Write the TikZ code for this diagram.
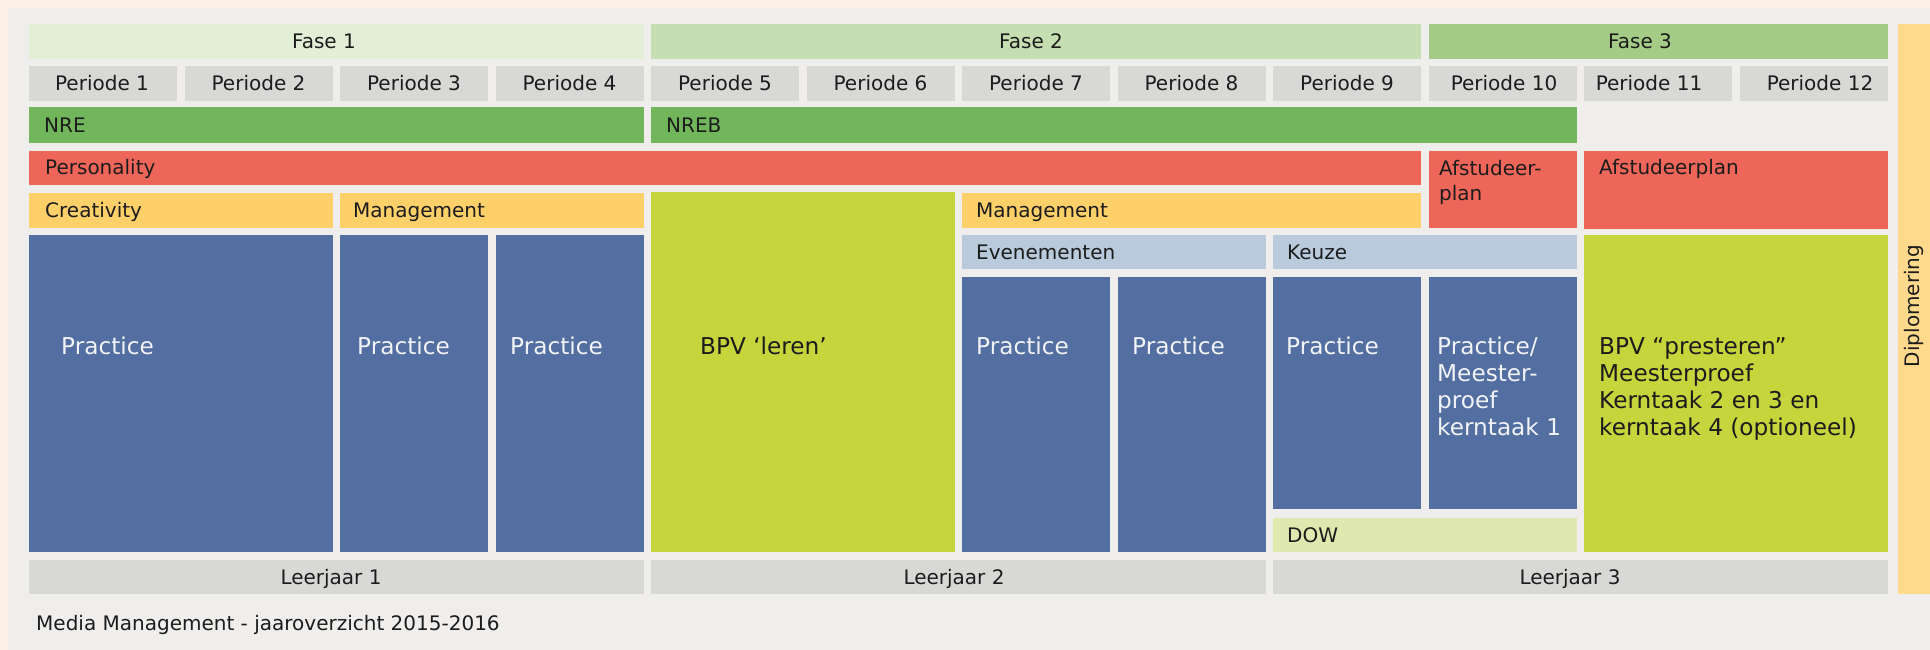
\documentclass[tikz,border=0pt]{standalone}
\usepackage{fontspec}
\setmainfont{DejaVu Sans}
\definecolor{peach}{HTML}{FDF0E6}
\definecolor{panel}{HTML}{F0EEEC}
\definecolor{fasea}{HTML}{E2EFD6}
\definecolor{faseb}{HTML}{C5DFB2}
\definecolor{fasec}{HTML}{A5CC86}
\definecolor{greyc}{HTML}{D8D8D6}
\definecolor{nrec}{HTML}{72B65B}
\definecolor{redc}{HTML}{EE665A}
\definecolor{yelc}{HTML}{FED06A}
\definecolor{bluec}{HTML}{536EA0}
\definecolor{lbluec}{HTML}{B8CADB}
\definecolor{limec}{HTML}{C6D53C}
\definecolor{dowc}{HTML}{DEE8AF}
\definecolor{diploc}{HTML}{FFDA8C}
\definecolor{txt}{HTML}{1C1C1C}
\definecolor{wtxt}{HTML}{F2F3F7}
\newcommand\cell[6]{\node[cellbox, fill=#6, anchor=north west, minimum width={(#4-#2)*1pt}, minimum height={(#5-#3)*1pt}] (#1) at (#2,#3) {};}
\begin{document}
\begin{tikzpicture}[x=1pt,y=-1pt,
  cellbox/.style={draw=none, inner sep=0pt, outer sep=0pt},
  lbl/.style={font=\fontsize{20}{25}\selectfont, text=txt, inner sep=0pt, align=left},
  big/.style={font=\fontsize{23.2}{27}\selectfont, text=wtxt, inner sep=0pt, align=left}]
\useasboundingbox (0,0) rectangle (1930,650);
\fill[peach] (0,0) rectangle (1930,650);
\fill[panel] (8,8) rectangle (1930,650);
% phases
\cell{fase1}{29}{24}{643.5}{59}{fasea}
\cell{fase2}{651}{24}{1421}{59}{faseb}
\cell{fase3}{1428.5}{24}{1887.5}{59}{fasec}
% periods
\cell{p1}{29}{66}{177}{101}{greyc}
\cell{p2}{184.5}{66}{332.5}{101}{greyc}
\cell{p3}{340}{66}{488}{101}{greyc}
\cell{p4}{495.5}{66}{643.5}{101}{greyc}
\cell{p5}{651}{66}{799}{101}{greyc}
\cell{p6}{806.5}{66}{954.5}{101}{greyc}
\cell{p7}{962}{66}{1110}{101}{greyc}
\cell{p8}{1117.5}{66}{1265.5}{101}{greyc}
\cell{p9}{1273}{66}{1421}{101}{greyc}
\cell{p10}{1428.5}{66}{1576.5}{101}{greyc}
\cell{p11}{1584}{66}{1732}{101}{greyc}
\cell{p12}{1739.5}{66}{1887.5}{101}{greyc}
% NRE
\cell{nre}{29}{107}{643.5}{143}{nrec}
\cell{nreb}{651}{107}{1576.5}{143}{nrec}
% personality
\cell{pers}{29}{151}{1421}{185}{redc}
\cell{afsta}{1428.5}{151}{1576.5}{227.5}{redc}
\cell{afstb}{1584}{151}{1887.5}{228.5}{redc}
% row 5
\cell{creat}{29}{193}{332.5}{228}{yelc}
\cell{mgmta}{340}{193}{643.5}{228}{yelc}
\cell{bpva}{651}{192}{954.5}{552}{limec}
\cell{mgmtb}{962}{193}{1421}{228}{yelc}
% practice blocks
\cell{blue1}{29}{235}{332.5}{552}{bluec}
\cell{blue2}{340}{235}{488}{552}{bluec}
\cell{blue3}{495.5}{235}{643.5}{552}{bluec}
\cell{even}{962}{235}{1265.5}{269}{lbluec}
\cell{blue4}{962}{277}{1110}{552}{bluec}
\cell{blue5}{1117.5}{277}{1265.5}{552}{bluec}
\cell{keuze}{1273}{235}{1576.5}{269}{lbluec}
\cell{blue6}{1273}{277}{1421}{509}{bluec}
\cell{blue7}{1428.5}{277}{1576.5}{509}{bluec}
\cell{dow}{1273}{518}{1576.5}{552}{dowc}
\cell{bpvb}{1584}{235}{1887.5}{552}{limec}
% years
\cell{leer1}{29}{560}{643.5}{594}{greyc}
\cell{leer2}{651}{560}{1265.5}{594}{greyc}
\cell{leer3}{1273}{560}{1887.5}{594}{greyc}
% diploma
\cell{diplo}{1898}{24}{1930}{594}{diploc}
% ---------- texts ----------
\node[lbl, anchor=base] (tf1) at (324,48.5) {Fase 1};
\node[lbl, anchor=base] (tf2) at (1031,48.5) {Fase 2};
\node[lbl, anchor=base] (tf3) at (1640,48.5) {Fase 3};
\node[lbl, anchor=base] (tp1) at (102,90.5) {Periode 1};
\node[lbl, anchor=base] (tp2) at (258.5,90.5) {Periode 2};
\node[lbl, anchor=base] (tp3) at (414,90.5) {Periode 3};
\node[lbl, anchor=base] (tp4) at (569.5,90.5) {Periode 4};
\node[lbl, anchor=base] (tp5) at (725,90.5) {Periode 5};
\node[lbl, anchor=base] (tp6) at (880.5,90.5) {Periode 6};
\node[lbl, anchor=base] (tp7) at (1036,90.5) {Periode 7};
\node[lbl, anchor=base] (tp8) at (1191.5,90.5) {Periode 8};
\node[lbl, anchor=base] (tp9) at (1347,90.5) {Periode 9};
\node[lbl, anchor=base] (tp10) at (1504,90.5) {Periode 10};
\node[lbl, anchor=base] (tp11) at (1649,90.5) {Periode 11};
\node[lbl, anchor=base] (tp12) at (1820,90.5) {Periode 12};
\node[lbl, anchor=base west] (tnre) at (44,132) {NRE};
\node[lbl, anchor=base west] (tnreb) at (666,132) {NREB};
\node[lbl, anchor=base west] (tpers) at (45,175) {Personality};
\node[lbl, anchor=north west] (tafsta) at (1439,160.5) {Afstudeer-\\plan};
\node[lbl, anchor=base west] (tafstb) at (1599,175) {Afstudeerplan};
\node[lbl, anchor=base west] (tcreat) at (45,217.5) {Creativity};
\node[lbl, anchor=base west] (tmgmta) at (353,217.5) {Management};
\node[lbl, anchor=base west] (tmgmtb) at (976,217.5) {Management};
\node[lbl, anchor=base west] (teven) at (976,259) {Evenementen};
\node[lbl, anchor=base west] (tkeuze) at (1287,259) {Keuze};
\node[lbl, anchor=base west] (tdow) at (1287,542) {DOW};
\node[big, anchor=base west] (tb1) at (61,354.5) {Practice};
\node[big, anchor=base west] (tb2) at (357,354.5) {Practice};
\node[big, anchor=base west] (tb3) at (510,354.5) {Practice};
\node[big, anchor=base west, text=txt] (tbpva) at (700,354.5) {BPV ‘leren’};
\node[big, anchor=base west] (tb4) at (976,354.5) {Practice};
\node[big, anchor=base west] (tb5) at (1132,354.5) {Practice};
\node[big, anchor=base west] (tb6) at (1286,354.5) {Practice};
\node[big, anchor=north west] (tb7) at (1437,337) {Practice/\\Meester-\\proef\\kerntaak 1};
\node[big, anchor=north west, text=txt] (tbpvb) at (1599,337.5) {BPV “presteren”\\Meesterproef\\Kerntaak 2 en 3 en\\kerntaak 4 (optioneel)};
\node[lbl, anchor=base] (tl1) at (331,584) {Leerjaar 1};
\node[lbl, anchor=base] (tl2) at (954,584) {Leerjaar 2};
\node[lbl, anchor=base] (tl3) at (1570,584) {Leerjaar 3};
\node[lbl, anchor=base, rotate=90] (tdiplo) at (1919,306) {Diplomering};
\node[lbl, anchor=base west] (tmedia) at (36,630) {Media Management - jaaroverzicht 2015-2016};
\end{tikzpicture}
\end{document}
